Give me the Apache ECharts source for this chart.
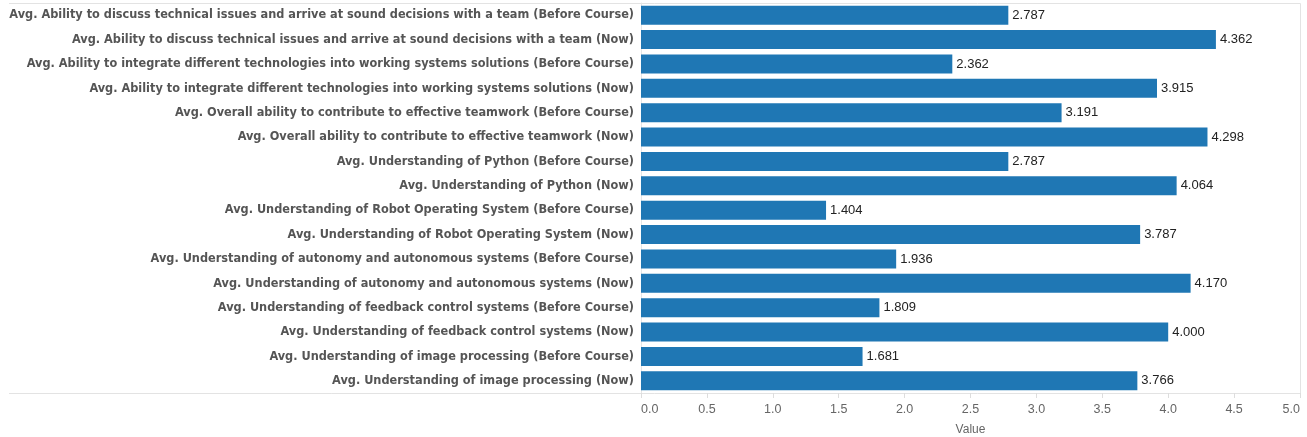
<!DOCTYPE html>
<html><head><meta charset="utf-8">
<script src="https://cdn.jsdelivr.net/npm/echarts@6/dist/echarts.min.js"></script>
<style>html,body{margin:0;padding:0;background:#fff}#c{width:1307px;height:437px}</style>
</head><body><div id="c"></div>
<script>
const categories = [
  "Avg. Ability to discuss technical issues and arrive at sound decisions with a team (Before Course)",
  "Avg. Ability to discuss technical issues and arrive at sound decisions with a team (Now)",
  "Avg. Ability to integrate different technologies into working systems solutions (Before Course)",
  "Avg. Ability to integrate different technologies into working systems solutions (Now)",
  "Avg. Overall ability to contribute to effective teamwork (Before Course)",
  "Avg. Overall ability to contribute to effective teamwork (Now)",
  "Avg. Understanding of Python (Before Course)",
  "Avg. Understanding of Python (Now)",
  "Avg. Understanding of Robot Operating System (Before Course)",
  "Avg. Understanding of Robot Operating System (Now)",
  "Avg. Understanding of autonomy and autonomous systems (Before Course)",
  "Avg. Understanding of autonomy and autonomous systems (Now)",
  "Avg. Understanding of feedback control systems (Before Course)",
  "Avg. Understanding of feedback control systems (Now)",
  "Avg. Understanding of image processing (Before Course)",
  "Avg. Understanding of image processing (Now)"
];
const values = [2.787, 4.362, 2.362, 3.915, 3.191, 4.298, 2.787, 4.064, 1.404, 3.787, 1.936, 4.170, 1.809, 4.000, 1.681, 3.766];
const axisTitle = "Value";

const chart = echarts.init(document.getElementById('c'));
chart.setOption({
  animation: false,
  grid: {left: 641, right: 7, top: 3, bottom: 44, containLabel: false, outerBoundsMode: 'none'},
  xAxis: {
    type: 'value', min: 0, max: 5, interval: 0.5,
    name: axisTitle, nameLocation: 'middle', nameGap: 31,
    nameTextStyle: {color: '#666', fontSize: 12, fontFamily: 'Liberation Sans'},
    axisLine: {show: false},
    axisTick: {show: true, length: 5, lineStyle: {color: '#ddd'}},
    splitLine: {show: false},
    axisLabel: {color: '#666', fontSize: 12.5, fontFamily: 'Liberation Sans', margin: 10,
      formatter: v => v.toFixed(1), alignMinLabel: 'left', alignMaxLabel: 'right'}
  },
  yAxis: {
    type: 'category', data: categories, inverse: true,
    axisLine: {show: true, lineStyle: {color: '#e6e6e6'}},
    axisTick: {show: false},
    axisLabel: {color: '#555', fontSize: 12.6, fontWeight: 'bold', fontFamily: 'DejaVu Sans Condensed', margin: 7}
  },
  series: [{
    type: 'bar', data: values, barCategoryGap: '22%',
    itemStyle: {color: '#1f77b4'},
    label: {show: true, position: 'right', distance: 4, color: '#222', fontSize: 13,
      fontFamily: 'Liberation Sans', formatter: p => p.value.toFixed(3)}
  }],
  graphic: [
    {type: 'line', shape: {x1: 9, y1: 3.5, x2: 1300.5, y2: 3.5}, style: {stroke: '#e3e3e3', lineWidth: 1}},
    {type: 'line', shape: {x1: 1300.5, y1: 3.5, x2: 1300.5, y2: 393.5}, style: {stroke: '#e3e3e3', lineWidth: 1}},
    {type: 'line', shape: {x1: 9, y1: 393.5, x2: 1300.5, y2: 393.5}, style: {stroke: '#e3e3e3', lineWidth: 1}}
  ]
});
</script></body></html>
